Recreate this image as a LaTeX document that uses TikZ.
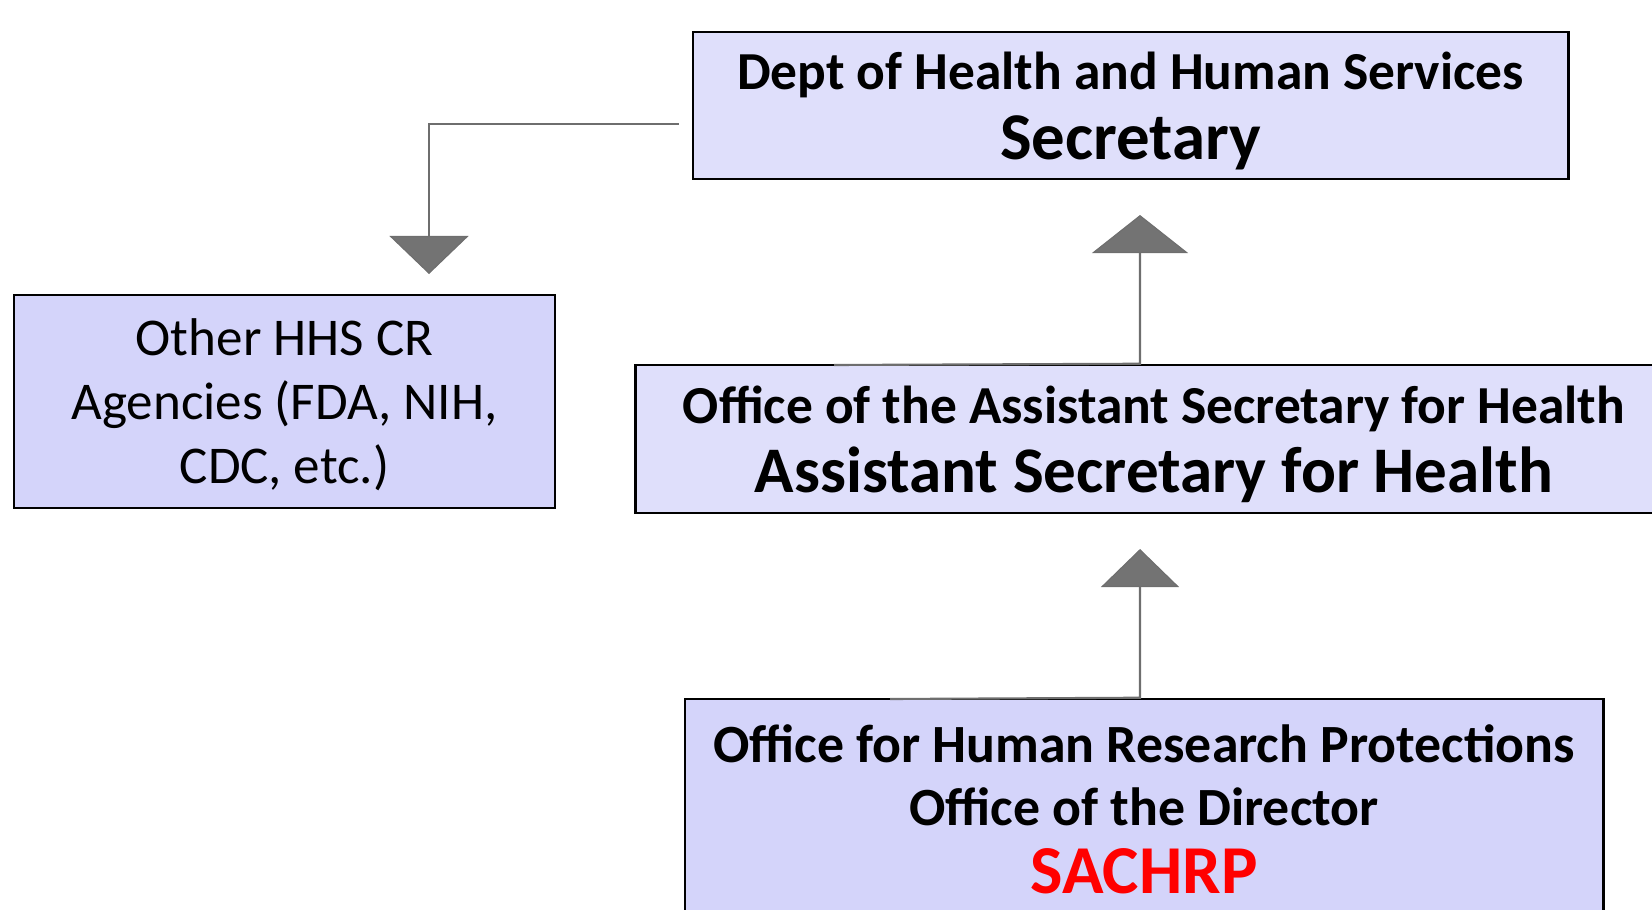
\documentclass[tikz,border=0pt]{standalone}
\usepackage{fontspec}
\setmainfont{Carlito}
\usepackage{tikz}
\usetikzlibrary{arrows.meta,positioning,calc}
\definecolor{boxfill}{HTML}{DFDFFB}
\definecolor{boxfilldark}{HTML}{D4D4FA}
\definecolor{linegray}{HTML}{6E6E6E}
\definecolor{tipgray}{HTML}{737373}
\definecolor{sachred}{HTML}{FF0000}
\tikzset{
block/.style = {draw, fill=boxfill, rectangle, align = center, inner sep=0pt, line width=0.7pt},
darkblock/.style = {block, fill=boxfilldark},
conn/.style = {draw=linegray, line width=0.6pt},
uptip/.style = {-{Triangle[width=#1, length=0.38cm, fill=tipgray, line width=0.3pt]}}
}
% first line of a box, pushed down a little
\newcommand{\toppad}[2]{\raisebox{0pt}[\dimexpr\height+#1\relax]{#2}}

\begin{document}
\begin{tikzpicture}[x=0.01cm, y=-0.01cm]
    \useasboundingbox (0,0) rectangle (1652,909);

    \node [block, name=sec, minimum width=8.75cm, minimum height=1.47cm,
           font=\fontsize{15.2}{18.2}\selectfont\bfseries] at (1130.5,105.5) (sec)
       {\toppad{3.1pt}{Dept of Health and Human Services}\\[1.5pt] {\fontsize{19}{18.2}\selectfont Secretary}};
    \node [darkblock, name=other, minimum width=5.41cm, minimum height=2.13cm,
           font=\fontsize{15.1}{18.2}\selectfont] at (284.5,401.5) (other)
       {\toppad{2pt}{Other HHS CR}\\ Agencies (FDA, NIH,\\ CDC, etc.)};
    \node [block, name=ash, minimum width=10.36cm, minimum height=1.48cm,
           font=\fontsize{15.2}{18.2}\selectfont\bfseries] at (1154,439) (ash)
       {\toppad{3.2pt}{Office of the Assistant Secretary for Health}\\[1.5pt] {\fontsize{18.5}{18.2}\selectfont Assistant Secretary for Health}};
    \node [darkblock, name=ohrp, minimum width=9.18cm, minimum height=2.16cm,
           font=\fontsize{15.3}{18}\selectfont\bfseries] at (1144,807) (ohrp)
       {\toppad{1.2pt}{Office for Human Research Protections}\\ Office of the Director\\[1.2pt] {\fontsize{19.5}{18}\selectfont\color{sachred}SACHRP}};

    \coordinate (tipother) at (429,274);
    \coordinate (tipsec) at (1140,215);
    \coordinate (tipash) at (1140,549);

    \draw [conn, -{Triangle[width=0.79cm, length=0.38cm, fill=tipgray, line width=0.3pt]}]
        ([xshift=-0.13cm, yshift=-0.185cm]sec.west) -| (tipother);
    \draw [conn, uptip=0.96cm] (834,365) -- (ash.north -| tipsec) -- (tipsec);
    \draw [conn, uptip=0.78cm] (890,699) -- (ohrp.north -| tipash) -- (tipash);
\end{tikzpicture}
\end{document}
